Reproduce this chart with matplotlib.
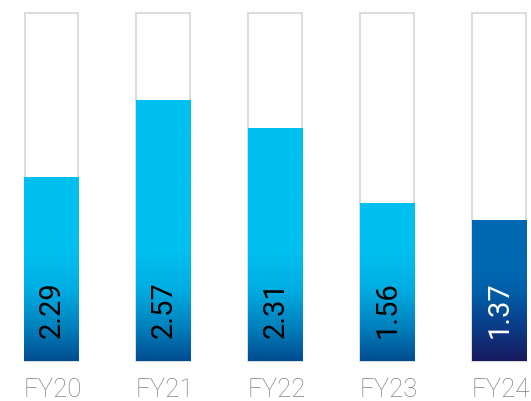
import numpy as np
import matplotlib
matplotlib.use("Agg")
import matplotlib.pyplot as plt
from matplotlib.colors import LinearSegmentedColormap
from matplotlib.patches import Rectangle
from matplotlib import font_manager

categories = ["FY20", "FY21", "FY22", "FY23", "FY24"]
values = [2.29, 2.57, 2.31, 1.56, 1.37]
bar_heights = [1.82, 2.58, 2.31, 1.56, 1.40]
box_top = 3.45

W, H = 531, 401
fig = plt.figure(figsize=(W / 100, H / 100), dpi=100)
ax = fig.add_axes([0, 0, 1, 1])
px_x = 111.9
x0 = 51.5
ax.set_xlim(-x0 / px_x, (W - x0) / px_x)
px_y = 101.0
base_px = 40
ax.set_ylim(-base_px / px_y, (H - base_px) / px_y)
ax.axis("off")

names = {f.name for f in font_manager.fontManager.ttflist}
val_family = "Liberation Sans Narrow" if "Liberation Sans Narrow" in names else "Roboto"

cmap_cyan = LinearSegmentedColormap.from_list(
    "cy", [(0.0, "#004C90"), (0.3, "#0080BC"), (0.65, "#00AEE2"), (1.0, "#00C0F0")])
cmap_navy = LinearSegmentedColormap.from_list(
    "nv", [(0.0, "#181A5E"), (0.35, "#0C3A86"), (0.75, "#005EA8"), (1.0, "#0068B2")])

width = 55 / px_x
for i, (cat, v, h) in enumerate(zip(categories, values, bar_heights)):
    left = i - width / 2
    box = Rectangle((left + 0.005, 0), width - 0.01, box_top, facecolor="white",
                    edgecolor="#DCDCDC", linewidth=1.4, zorder=1)
    ax.add_patch(box)
    cmap = cmap_navy if i == 4 else cmap_cyan
    grad_top = 0.9 if i == 4 else 1.1
    ys = np.linspace(0, h, 300)
    t = np.clip(ys / grad_top, 0, 1)
    img = t[:, None]
    im = ax.imshow(img, cmap=cmap, vmin=0, vmax=1, origin="lower",
                   extent=(left, left + width, 0, h), aspect="auto", zorder=2,
                   interpolation="bilinear")
    clip = Rectangle((left, 0), width, h, transform=ax.transData)
    im.set_clip_path(clip)
    ax.text(i, 0.225, f"{v:.2f}", rotation=90, rotation_mode="anchor",
            ha="left", va="center", fontsize=21, family=val_family,
            color="white" if i == 4 else "black", zorder=3)
    ax.text(i + 0.01, -0.355, cat, ha="center", va="baseline", fontsize=18.5,
            family="Roboto", fontweight="light", color="#808080", zorder=3)

fig.savefig("out.png", dpi=100)
